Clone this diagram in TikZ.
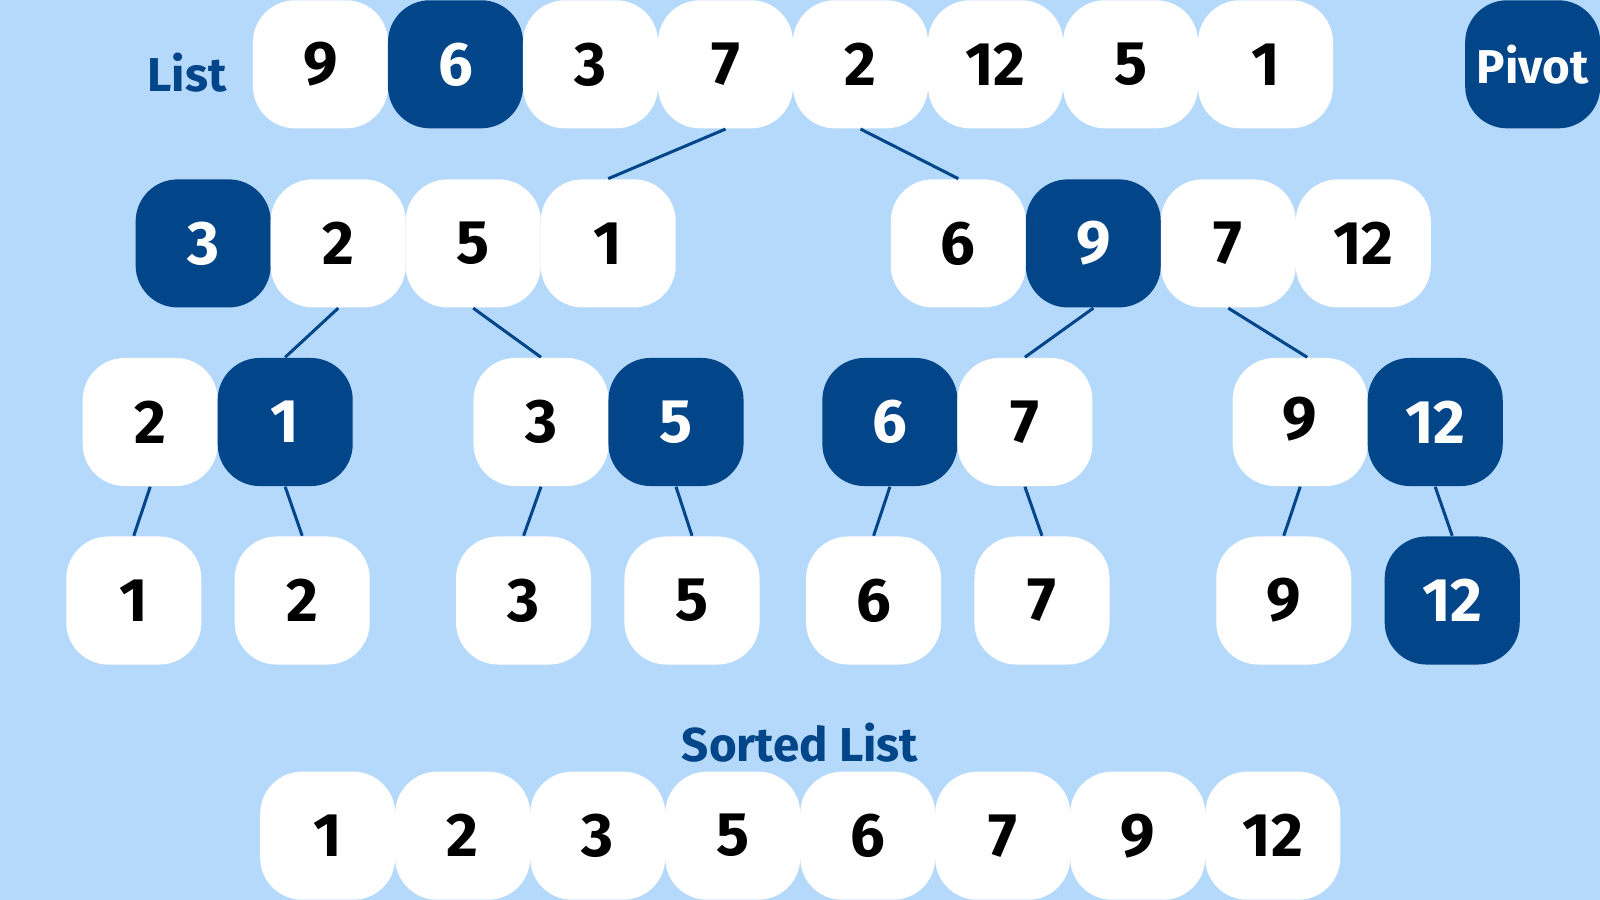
\documentclass[tikz,border=0pt]{standalone}
\usepackage{fontspec}
\setmainfont{Fira Sans}
\definecolor{bgblue}{RGB}{181,217,251}
\definecolor{navy}{RGB}{2,69,137}
\tikzset{
  x=0.01cm, y=-0.01cm,
  cell/.style={rounded corners=0.42cm, minimum width=1.35cm, minimum height=1.28cm,
    inner sep=0pt, font=\fontsize{17.5}{17.5}\selectfont\bfseries},
  lite/.style={cell, fill=white, text=black},
  dark/.style={cell, fill=navy, text=white},
  lbl/.style={text=navy, font=\fontsize{13.5}{13.5}\selectfont\bfseries},
  link/.style={draw=navy, line width=0.03cm},
}
\begin{document}
\begin{tikzpicture}
\fill[bgblue] (0,0) rectangle (1600,900);
\useasboundingbox (0,0) rectangle (1600,900);

% title labels
\node[lbl] (listlbl) at (187,73) {List};
\node[dark, font=\fontsize{13.5}{13.5}\selectfont\bfseries] (pivot) at (1532.7,64.3) {Pivot};
\node[lbl] (sortedlbl) at (800,743) {Sorted List};

% top row
\node[lite] (t1) at (320.5,64.3) {9};
\node[dark] (t2) at (455.5,64.3) {6};
\node[lite] (t3) at (590.5,64.3) {3};
\node[lite] (t4) at (725.5,64.3) {7};
\node[lite] (t5) at (860.5,64.3) {2};
\node[lite] (t6) at (995.5,64.3) {12};
\node[lite] (t7) at (1130.5,64.3) {5};
\node[lite] (t8) at (1265.5,64.3) {1};

% row 2
\node[dark] (a1) at (203.2,243.4) {3};
\node[lite] (a2) at (338.2,243.4) {2};
\node[lite] (a3) at (473.2,243.4) {5};
\node[lite] (a4) at (608.2,243.4) {1};
\node[lite] (b1) at (958.3,243.4) {6};
\node[dark] (b2) at (1093.3,243.4) {9};
\node[lite] (b3) at (1228.3,243.4) {7};
\node[lite] (b4) at (1363.3,243.4) {12};

% row 3
\node[lite] (c1) at (150.2,422) {2};
\node[dark] (c2) at (285.2,422) {1};
\node[lite] (c3) at (541,422) {3};
\node[dark] (c4) at (676,422) {5};
\node[dark] (c5) at (889.9,422) {6};
\node[lite] (c6) at (1024.9,422) {7};
\node[lite] (c7) at (1300.2,422) {\raisebox{0.07cm}{9}};
\node[dark] (c8) at (1435.2,422) {12};

% row 4
\node[lite] (d1) at (133.8,600.5) {1};
\node[lite] (d2) at (302.2,600.5) {2};
\node[lite] (d3) at (523.6,600.5) {3};
\node[lite] (d4) at (692,600.5) {5};
\node[lite] (d5) at (873.6,600.5) {6};
\node[lite] (d6) at (1042,600.5) {7};
\node[lite] (d7) at (1283.8,600.5) {9};
\node[dark] (d8) at (1452.2,600.5) {12};

% sorted row
\node[lite] (s1) at (327.7,835.7) {1};
\node[lite] (s2) at (462.7,835.7) {2};
\node[lite] (s3) at (597.7,835.7) {3};
\node[lite] (s4) at (732.7,835.7) {5};
\node[lite] (s5) at (867.7,835.7) {6};
\node[lite] (s6) at (1002.7,835.7) {7};
\node[lite] (s7) at (1137.7,835.7) {9};
\node[lite] (s8) at (1272.7,835.7) {12};

% connectors
\draw[link] (t4.south) -- (a4.north);
\draw[link] (t5.south) -- (b1.north);
\draw[link] (a2.south) -- (c2.north);
\draw[link] (a3.south) -- (c3.north);
\draw[link] (b2.south) -- (c6.north);
\draw[link] (b3.south) -- ([xshift=0.07cm]c7.north);
\draw[link] (c1.south) -- (d1.north);
\draw[link] (c2.south) -- (d2.north);
\draw[link] (c3.south) -- (d3.north);
\draw[link] (c4.south) -- (d4.north);
\draw[link] (c5.south) -- (d5.north);
\draw[link] (c6.south) -- (d6.north);
\draw[link] (c7.south) -- (d7.north);
\draw[link] (c8.south) -- (d8.north);
\end{tikzpicture}
\end{document}
